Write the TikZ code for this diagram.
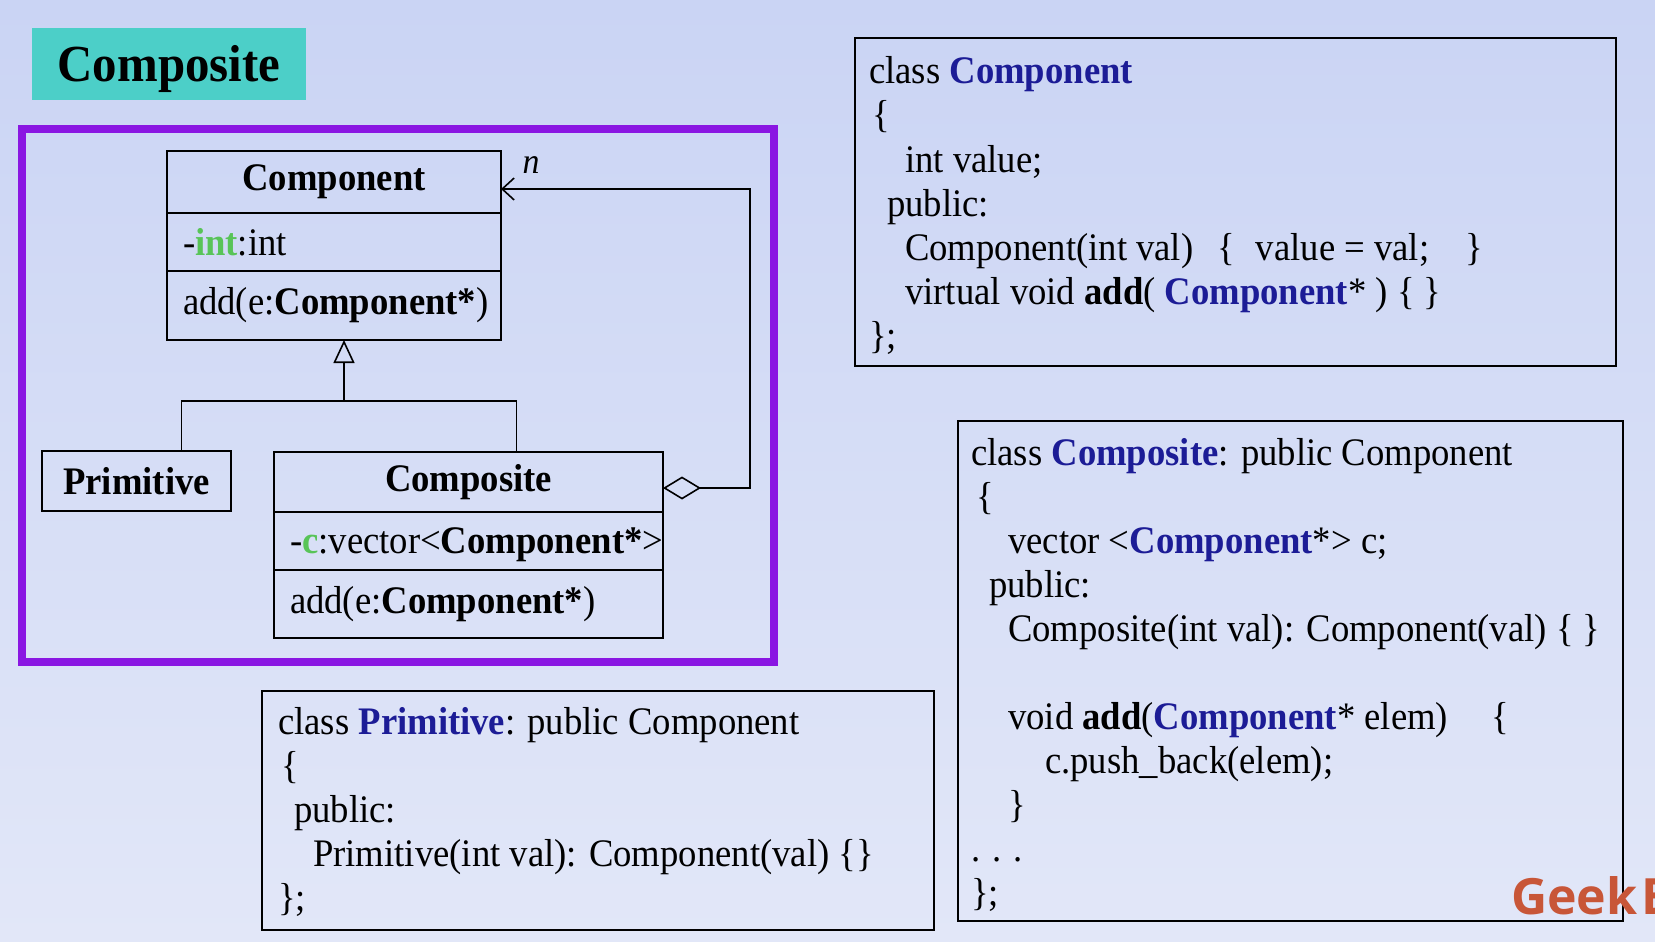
\documentclass[tikz,border=0pt]{standalone}
\usepackage{fontspec}
\setmainfont{Liberation Serif}[FakeStretch=0.94]
\newfontfamily\logofont{Open Sans}
\usetikzlibrary{arrows.meta,positioning,calc}
\definecolor{bgtop}{RGB}{202,212,244}
\definecolor{bgbot}{RGB}{226,231,248}
\definecolor{titleteal}{RGB}{76,207,200}
\definecolor{framepurple}{RGB}{138,22,226}
\definecolor{kwblue}{RGB}{28,28,150}
\definecolor{idgreen}{RGB}{88,196,88}
\definecolor{logored}{RGB}{200,86,56}
\newcommand{\kwd}[1]{\textcolor{kwblue}{\textbf{#1}}}
\newcommand{\idg}[1]{\textcolor{idgreen}{\textbf{#1}}}

\begin{document}
\begin{tikzpicture}[x=1pt, y=-1pt, >=Stealth,
	   font=\fontsize{39}{44}\selectfont,
	   hd/.style={draw, line width=1.6pt, inner sep=0pt, outer sep=0pt, font=\fontsize{39}{44}\selectfont\bfseries},
	   row/.style={draw, line width=1.6pt, text width=#1, inner xsep=16pt, inner ysep=0pt, outer sep=0pt, align=left},
	   codebox/.style={draw, line width=2pt, anchor=north west, inner sep=0pt},
	   ln/.style={anchor=base west, inner sep=0pt}]
	  \useasboundingbox (0,0) rectangle (1655,942);
	  \shade[top color=bgtop, bottom color=bgbot] (0,0) rectangle (1655,942);
	  \node[fill=titleteal, minimum width=274pt, minimum height=72pt, font=\fontsize{52}{60}\selectfont\bfseries] (title) at (169,64) {\raisebox{-5pt}[\height][\depth]{Composite}};
	  \node[draw=framepurple, line width=8.5pt, minimum width=752pt, minimum height=533pt, inner sep=0pt] (frame) at (398,395.5) {};
	  % class diagram
	  \node[hd, minimum width=334pt, minimum height=62pt] (cmpH) at (334,182) {Component};
	  \node[row=302pt, minimum height=58pt, below=0pt of cmpH] (cmpA) {-\idg{int}:int};
	  \node[row=302pt, minimum height=69pt, below=0pt of cmpA] (cmpO) {add(e:\textbf{Component*})};
	  \node[hd, minimum width=189pt, minimum height=60pt] (prim) at (136.5,481) {Primitive};
	  \node[hd, minimum width=389pt, minimum height=60pt] (cmsH) at (468.5,482) {Composite};
	  \node[row=357pt, minimum height=58pt, below=0pt of cmsH] (cmsA) {\raisebox{-4pt}[\height][\depth]{-\idg{c}:vector<\textbf{Component*}>}};
	  \node[row=357pt, minimum height=68pt, below=0pt of cmsA] (cmsO) {add(e:\textbf{Component*})};
	  \coordinate (inh) at (344,401);
	  \draw[line width=1.6pt, -{Triangle[open, length=23pt, width=21pt]}] (inh) -- (inh |- cmpO.south);
	  \draw[line width=1.6pt] ([xshift=45pt]prim.north) |- (inh) -| ([xshift=48pt]cmsH.north);
	  \coordinate (ret) at (750,189);
	  \draw[line width=1.6pt, {Diamond[open, length=38pt, width=23pt]}-{Straight Barb[length=12pt, width=22pt]}] ([yshift=-6pt]cmsH.east) -| (ret) -- ([yshift=-7pt]cmpH.east);
	  \node[font=\fontsize{36}{40}\selectfont\itshape] (mult) at (531,165) {n};
	  % code
	  \node[codebox, minimum width=761pt, minimum height=328pt] (cbCmp) at (854,37) {};
	  \node[codebox, minimum width=665pt, minimum height=500pt] (cbCms) at (957,420) {};
	  \node[codebox, minimum width=672pt, minimum height=239pt] (cbPrm) at (261,690) {};
	  \foreach \x/\y/\t [count=\i] in {869/84/{class \kwd{Component}}, 872/128/\{, 905/172/{int value;}, 887/216/{public:},
	      905/260/{Component(int val)\hspace{24pt}\{\hspace{21pt}value = val;\hspace{36pt}\}},
	      905/304/{virtual void \textbf{add}( \kwd{Component}* ) \{ \}}, 869/348/\};}
	    \node[ln] (lnA\i) at (\x,\y) {\t};
	  \foreach \x/\y/\t [count=\i] in {971/465/{class \kwd{Composite}: public Component}, 976/509/\{,
	      1008/553/{vector <\kwd{Component}*> c;}, 989/597/{public:}, 1008/641/{Composite(int val): Component(val) \{ \}},
	      1008/729/{void \textbf{add}(\kwd{Component}* elem)\hspace{43pt}\{}, 1045/773/{c.push\_back(elem);},
	      1008/817/\}, 971/861/{. . .}, 971/905/\};}
	    \node[ln] (lnB\i) at (\x,\y) {\t};
	  \foreach \x/\y/\t [count=\i] in {278/734/{class \kwd{Primitive}: public Component}, 281/778/\{, 294/822/{public:},
	      313/866/{Primitive(int val): Component(val) \{\}}, 278/910/\};}
	    \node[ln] (lnC\i) at (\x,\y) {\t};
	  \node[ln, font=\logofont\fontsize{50}{50}\selectfont\bfseries, text=logored] (logo) at (1511,914) {Geek\hspace{4pt}B};
	\end{tikzpicture}
\end{document}
